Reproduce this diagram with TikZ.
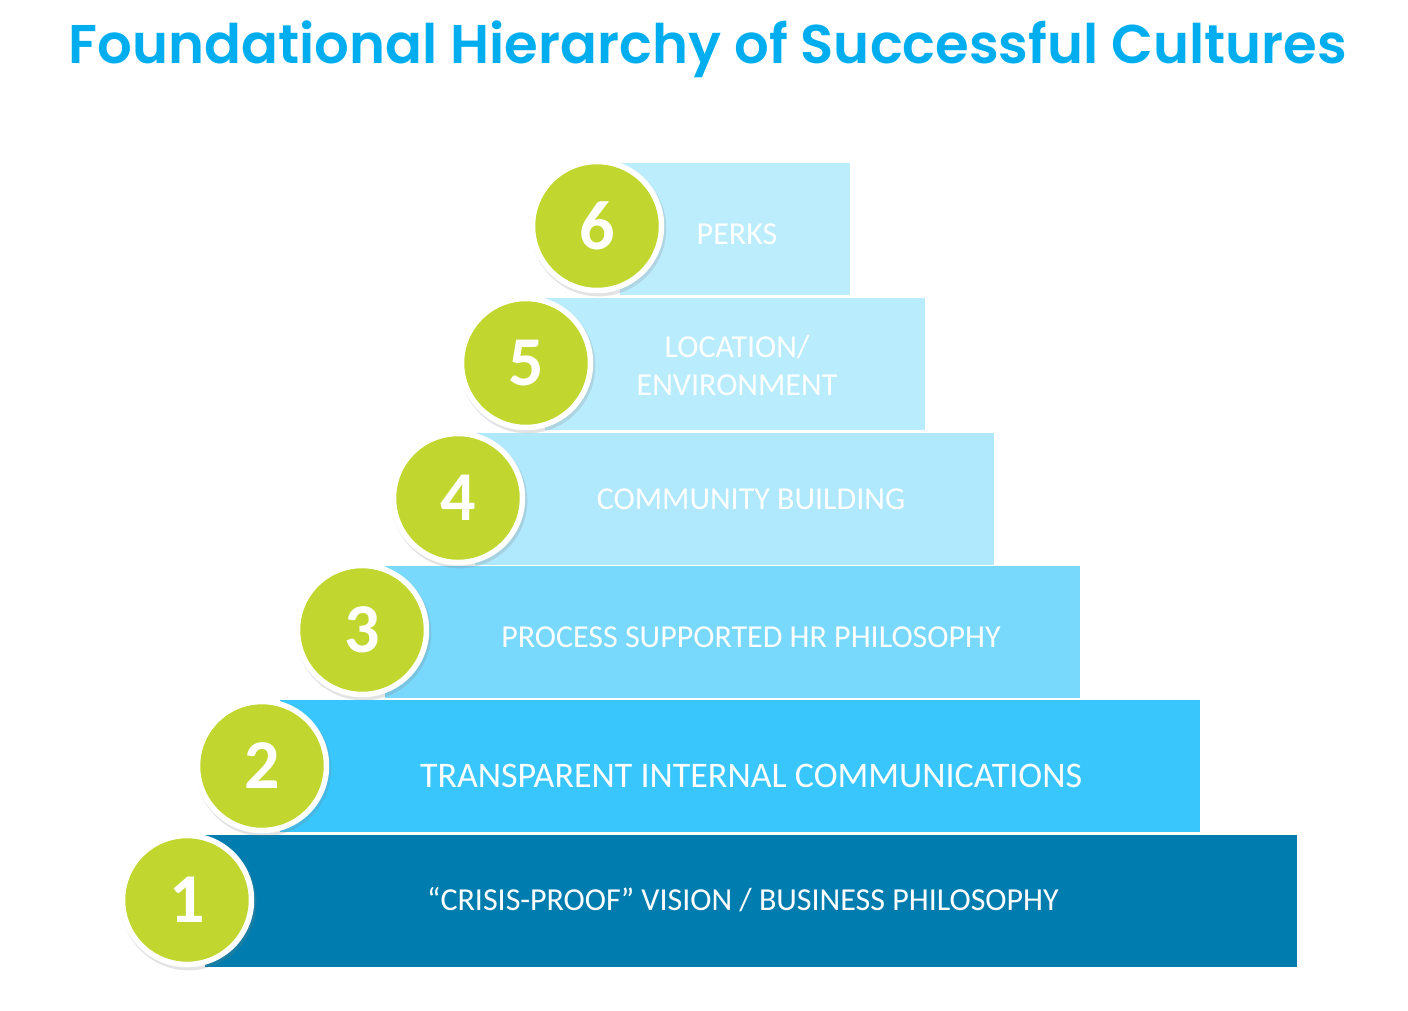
\documentclass[tikz,border=0pt]{standalone}
\usepackage{fontspec}
\setmainfont{Carlito}
\newfontfamily\titlefont{Poppins SemiBold}
\usetikzlibrary{shadows}
\definecolor{titleblue}{RGB}{0, 174, 239}
\definecolor{tierone}{RGB}{0, 125, 174}
\definecolor{tiertwo}{RGB}{56, 198, 253}
\definecolor{tierthree}{RGB}{120, 217, 253}
\definecolor{tierfour}{RGB}{176, 232, 253}
\definecolor{tierfive}{RGB}{185, 236, 253}
\definecolor{tiersix}{RGB}{187, 237, 253}
\definecolor{lime}{RGB}{193, 215, 47}

\begin{document}
\begin{tikzpicture}[x=1pt, y=-1pt,
    tier/.style={inner sep=0, minimum height=132pt},
    badge/.style={circle, fill=lime, draw=white, line width=5.5pt, minimum size=129pt, inner sep=0,
      text=white, font=\fontsize{70}{70}\selectfont\bfseries,
      drop shadow={shadow xshift=1.5pt, shadow yshift=-2.5pt, shadow scale=1.05, opacity=0.22}},
    tiertext/.style={text=white, align=center, inner sep=0, font=\fontsize{32}{38}\selectfont}]
      \useasboundingbox (0,0) rectangle (1408,1010);

      % Title
      \node[anchor=base, text=titleblue, font=\titlefont\fontsize{54.5}{60}\selectfont] (title) at (708,63) {Foundational Hierarchy of Successful Cultures};

      % Tiers
      \node[tier, fill=tiersix, minimum width=230pt] (tier6) at (735,229) {};
      \node[tier, fill=tierfive, minimum width=380pt] (tier5) at (735,364) {};
      \node[tier, fill=tierfour, minimum width=519pt] (tier4) at (734.5,498.5) {};
      \node[tier, fill=tierthree, minimum width=695pt] (tier3) at (732.5,632) {};
      \node[tier, fill=tiertwo, minimum width=920pt] (tier2) at (740,766) {};
      \node[tier, fill=tierone, minimum width=1092pt] (tier1) at (751,901) {};

      % Badges
      \node[badge] (badge6) at (597,226) {6};
      \node[badge] (badge5) at (526,363) {5};
      \node[badge] (badge4) at (458,498) {4};
      \node[badge] (badge3) at (362,630) {3};
      \node[badge] (badge2) at (262,766) {2};
      \node[badge] (badge1) at (187,900) {1};

      % Labels
      \node[tiertext] (label6) at (737,234) {PERKS};
      \node[tiertext] (label5) at (737,365) {LOCATION/\\ENVIRONMENT};
      \node[tiertext] (label4) at (751,499) {COMMUNITY BUILDING};
      \node[tiertext] (label3) at (751,637) {PROCESS SUPPORTED HR PHILOSOPHY};
      \node[tiertext, font=\fontsize{36}{38}\selectfont] (label2) at (751,776) {TRANSPARENT INTERNAL COMMUNICATIONS};
      \node[tiertext] (label1) at (743,900) {“CRISIS-PROOF” VISION / BUSINESS PHILOSOPHY};
    \end{tikzpicture}
\end{document}
